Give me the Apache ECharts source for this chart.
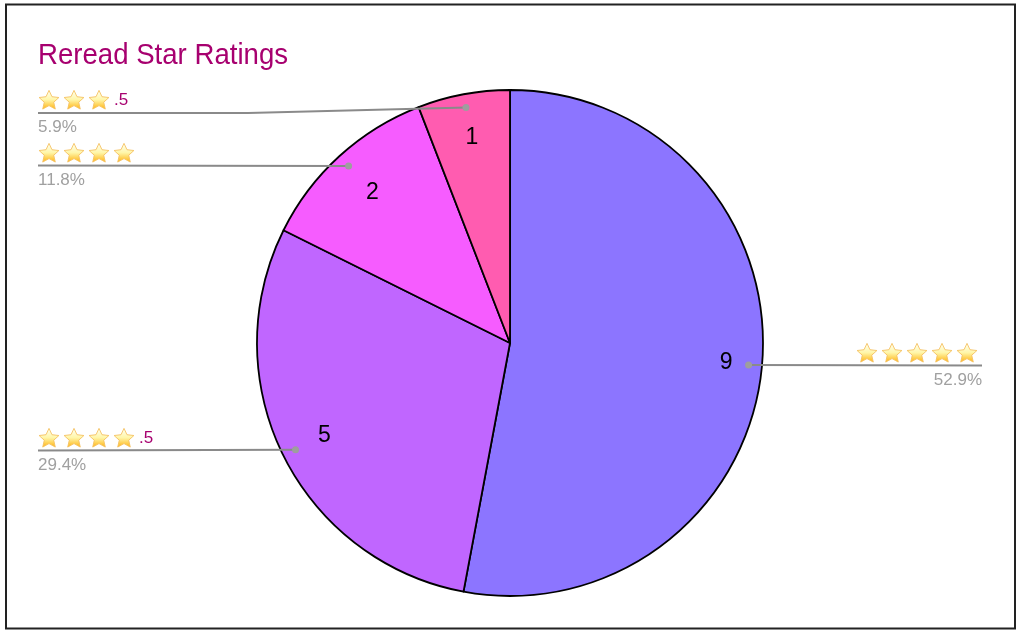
<!DOCTYPE html>
<html><head><meta charset="utf-8">
<style>html,body{margin:0;padding:0;background:#fff}#c{width:1024px;height:636px}</style>
<script src="https://cdn.jsdelivr.net/npm/echarts@6/dist/echarts.min.js"></script>
</head><body><div id="c"></div>
<script>
const titleText = 'Reread Star Ratings';
const ratings = ['5 stars', '4.5 stars', '4 stars', '3.5 stars'];
const values = [9, 5, 2, 1];
const percents = ['52.9%', '29.4%', '11.8%', '5.9%'];
const starCounts = [5, 4, 4, 3];
const halves = ['', '.5', '', '.5'];
const colors = ['#8C75FF', '#C066FF', '#F65CFF', '#FF5CB0'];

// annotation anchors: outer end of each leader line, and optional elbow
const lineEnds = [[982, 365.5], [38, 450.5], [38, 165.5], [38, 113]];
const elbows = [null, null, null, [248, 113]];
const valueNudges = [[4, 0], [5, -2], [6, 7], [1, 4]];

const CX = 510, CY = 343, R = 253;
const svg = `<svg xmlns="http://www.w3.org/2000/svg" width="40" height="40" viewBox="0 0 40 40"><defs><linearGradient id="g" x1="0" y1="0" x2="0" y2="1"><stop offset="0" stop-color="#FFFFF4"/><stop offset="0.5" stop-color="#FFF6A8"/><stop offset="1" stop-color="#FFB414"/></linearGradient></defs><path d="M20 2.5 L25.4 14 L38 15.5 L28.6 24 L31.4 36.5 L20 30.2 L8.6 36.5 L11.4 24 L2 15.5 L14.6 14 Z" fill="url(#g)" stroke="#F5C060" stroke-width="1.6" stroke-linejoin="round"/></svg>`;
const starImg = 'data:image/svg+xml;charset=utf-8,' + encodeURIComponent(svg);

const total = values.reduce((a, b) => a + b, 0);
let acc = 0;
const midAngles = values.map(v => { const m = (acc + v / 2) / total * 2 * Math.PI; acc += v; return m; });
const dots = midAngles.map(a => [CX + 0.947 * R * Math.sin(a), CY - 0.947 * R * Math.cos(a)]);

const labelText = i => '{s|}{g|}'.repeat(starCounts[i]).replace(/\{g\|\}$/, '') +
  (halves[i] ? '{g|}{h|' + halves[i] + '}' : '') + (i === 0 ? '{e|}' : '') + '\n{p|' + percents[i] + '}';

const graphics = [{
  type: 'rect', silent: true, z: 0,
  shape: { x: 6, y: 4.5, width: 1009, height: 624 },
  style: { fill: '#fff', stroke: '#222', lineWidth: 2 }
}, {
  type: 'text', silent: true, z: 70, x: 38, y: 41, scaleX: 0.92,
  style: { text: titleText, font: '30px "Liberation Sans"', fill: '#A7006F' }
}];
dots.forEach((d, i) => {
  const pts = [d];
  if (elbows[i]) pts.push(elbows[i]);
  pts.push(lineEnds[i]);
  graphics.push({ type: 'polyline', silent: true, z: 50, shape: { points: pts }, style: { stroke: '#8A8A8A', lineWidth: 2, fill: null } });
  graphics.push({ type: 'circle', silent: true, z: 51, shape: { cx: d[0], cy: d[1], r: 3.5 }, style: { fill: '#9E9E9E' } });
});

const chart = echarts.init(document.getElementById('c'), null, { renderer: 'canvas' });
chart.setOption({
  animation: false,
  backgroundColor: '#fff',
  graphic: graphics,
  series: [{
    type: 'pie', center: [CX, CY], radius: R, startAngle: 90, clockwise: true, silent: true, z: 2,
    data: values.map((v, i) => ({ value: v, name: ratings[i], itemStyle: { color: colors[i] } })),
    itemStyle: { borderColor: '#000', borderWidth: 1.8 },
    labelLine: { show: false },
    label: {
      show: true, position: 'outside',
      formatter: p => labelText(p.dataIndex),
      rich: {
        s: { width: 22, height: 22, lineHeight: 26, backgroundColor: { image: starImg } },
        g: { width: 3, height: 22, lineHeight: 26 },
        e: { width: 4, height: 22, lineHeight: 26 },
        h: { fontFamily: 'Liberation Sans', fontSize: 17, color: '#A7006F', lineHeight: 26, padding: [0, 0, 0, 1] },
        p: { fontFamily: 'Liberation Sans', fontSize: 17, color: '#A0A0A0', lineHeight: 28 }
      }
    },
    labelLayout: p => {
      const i = p.dataIndex, e = lineEnds[i];
      return { x: e[0], y: Math.round(e[1]) - 26, align: i === 0 ? 'right' : 'left', verticalAlign: 'top', hideOverlap: false };
    }
  }, {
    type: 'pie', center: [CX, CY], radius: [0.66 * R, R], startAngle: 90, clockwise: true, silent: true, z: 60,
    data: values.map((v, i) => ({ value: v, name: ratings[i] })),
    itemStyle: { color: 'transparent', borderWidth: 0 },
    labelLine: { show: false },
    label: { show: true, position: 'inside', formatter: '{c}', fontFamily: 'Liberation Sans', fontSize: 23, color: '#000' },
    labelLayout: p => ({ dx: valueNudges[p.dataIndex][0], dy: valueNudges[p.dataIndex][1] })
  }]
});
</script></body></html>
